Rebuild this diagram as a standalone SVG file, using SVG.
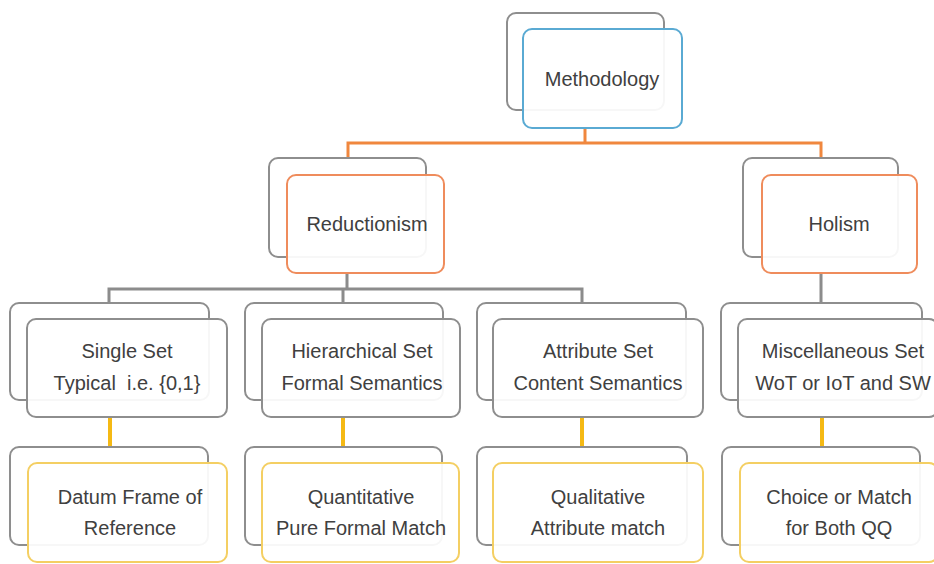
<svg xmlns="http://www.w3.org/2000/svg" width="934" height="564" viewBox="0 0 934 564">
<style>
.bk{fill:#fff;stroke:#8e8e8e;stroke-width:2}
.fr{fill:#fff;fill-opacity:0.93;stroke-width:2}
.blue{stroke:#5aaad3}
.orange{stroke:#ef8c5c}
.gray{stroke:#8e8e8e}
.yellow{stroke:#f4cf63}
text{font-family:"Liberation Sans",Arial,sans-serif;font-size:20px;fill:#404040;text-anchor:middle}
.co{fill:none;stroke:#f0873e;stroke-width:3}
.cg{fill:none;stroke:#8c8c8c;stroke-width:3}
.cy{fill:none;stroke:#f5b914;stroke-width:4}
</style>
<g id="connectors">
<path class="co" d="M585 128V143M348 158V143H821V158"/>
<path class="cg" d="M347 273V289M109 303V289H582V303M343 289V303M821 273V303"/>
<path class="cy" d="M110 417V447M343 417V447M582 417V447M822 417V447"/>
</g>
<g id="methodology">
<rect class="bk" x="507" y="13" width="157" height="97" rx="9"/>
<rect class="fr blue" x="523" y="29" width="159" height="99" rx="9"/>
<text x="602" y="86">Methodology</text>
</g>
<g id="reductionism">
<rect class="bk" x="269" y="158" width="157" height="99" rx="9"/>
<rect class="fr orange" x="287" y="175" width="157" height="98" rx="9"/>
<text x="367" y="231">Reductionism</text>
</g>
<g id="holism">
<rect class="bk" x="743" y="158" width="155" height="99" rx="9"/>
<rect class="fr orange" x="762" y="175" width="155" height="98" rx="9"/>
<text x="839" y="231">Holism</text>
</g>
<g id="single-set">
<rect class="bk" x="10" y="303" width="199" height="97" rx="9"/>
<rect class="fr gray" x="27" y="319" width="200" height="98" rx="9"/>
<text x="127" y="358">Single Set</text>
<text x="127" y="390" xml:space="preserve">Typical  i.e. {0,1}</text>
</g>
<g id="hierarchical-set">
<rect class="bk" x="245" y="303" width="198" height="97" rx="9"/>
<rect class="fr gray" x="262" y="319" width="198" height="98" rx="9"/>
<text x="362" y="358">Hierarchical Set</text>
<text x="362" y="390">Formal Semantics</text>
</g>
<g id="attribute-set">
<rect class="bk" x="477" y="303" width="209" height="97" rx="9"/>
<rect class="fr gray" x="493" y="319" width="210" height="98" rx="9"/>
<text x="598" y="358">Attribute Set</text>
<text x="598" y="390">Content Semantics</text>
</g>
<g id="miscellaneous-set">
<rect class="bk" x="721" y="303" width="201" height="97" rx="9"/>
<rect class="fr gray" x="738" y="319" width="200" height="98" rx="9"/>
<text x="843" y="358">Miscellaneous Set</text>
<text x="843" y="390">WoT or IoT and SW</text>
</g>
<g id="datum-frame">
<rect class="bk" x="10" y="447" width="198" height="98" rx="9"/>
<rect class="fr yellow" x="28" y="463" width="199" height="99" rx="9"/>
<text x="130" y="504">Datum Frame of</text>
<text x="130" y="535">Reference</text>
</g>
<g id="quantitative">
<rect class="bk" x="245" y="447" width="197" height="98" rx="9"/>
<rect class="fr yellow" x="262" y="463" width="197" height="99" rx="9"/>
<text x="361" y="504">Quantitative</text>
<text x="361" y="535">Pure Formal Match</text>
</g>
<g id="qualitative">
<rect class="bk" x="477" y="447" width="210" height="98" rx="9"/>
<rect class="fr yellow" x="493" y="463" width="210" height="99" rx="9"/>
<text x="598" y="504">Qualitative</text>
<text x="598" y="535">Attribute match</text>
</g>
<g id="choice-or-match">
<rect class="bk" x="722" y="447" width="198" height="98" rx="9"/>
<rect class="fr yellow" x="740" y="463" width="198" height="99" rx="9"/>
<text x="839" y="504">Choice or Match</text>
<text x="839" y="535">for Both QQ</text>
</g>
</svg>
